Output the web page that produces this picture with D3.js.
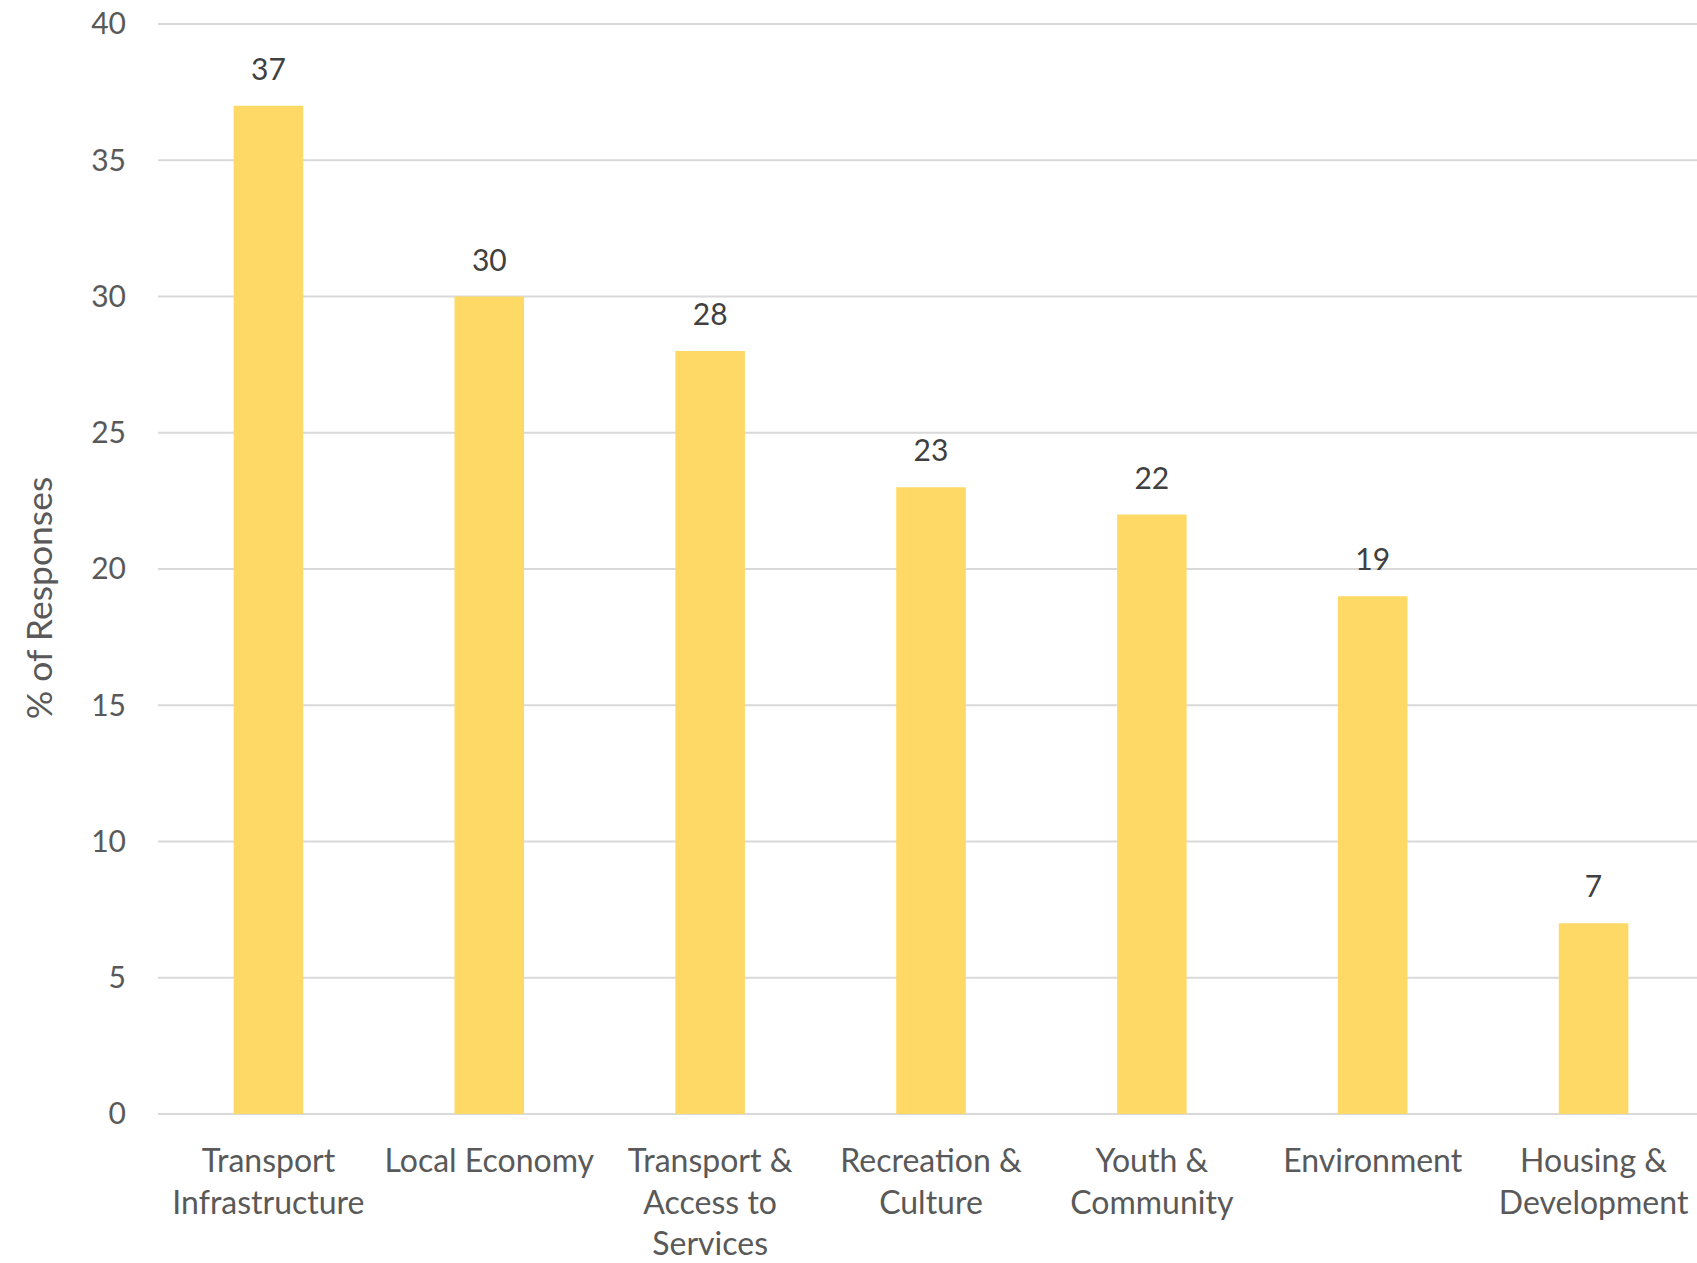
<!DOCTYPE html>
<html>
<head>
<meta charset="utf-8">
<script src="https://cdn.jsdelivr.net/npm/d3@7"></script>
<style>
html,body{margin:0;padding:0;background:#fff;overflow:hidden;}
text{font-family:Lato,"Open Sans",sans-serif;}
</style>
</head>
<body>
<svg id="chart" width="1697" height="1263"></svg>
<script>
const categories = [
  ["Transport", "Infrastructure"],
  ["Local Economy"],
  ["Transport &", "Access to", "Services"],
  ["Recreation &", "Culture"],
  ["Youth &", "Community"],
  ["Environment"],
  ["Housing &", "Development"]
];
const values = [37, 30, 28, 23, 22, 19, 7];
const yTicks = [0, 5, 10, 15, 20, 25, 30, 35, 40];
const yTitle = "% of Responses";

const svg = d3.select("#chart");
const keys = categories.map(c => c.join(" "));

const x = d3.scaleBand().domain(keys).range([158, 1704]).paddingInner(0.685).paddingOuter(0.3425);
const y = d3.scaleLinear().domain([0, 40]).range([1114, 24]);

// gridlines
svg.append("g").selectAll("line").data(yTicks).join("line")
  .attr("x1", 158).attr("x2", 1704)
  .attr("y1", d => y(d)).attr("y2", d => y(d))
  .attr("stroke", "#d9d9d9").attr("stroke-width", 2.2);

// y axis labels
const yAxis = d3.axisLeft(y).tickValues(yTicks).tickSize(0).tickPadding(0);
const ga = svg.append("g").attr("transform", "translate(126,0)").call(yAxis);
ga.select(".domain").remove();
ga.selectAll("text").attr("font-size", 30).attr("fill", "#595959")
  .style("font-family", "Lato").attr("dy", "0.33em");

// bars
svg.append("g").selectAll("rect").data(values).join("rect")
  .attr("x", (d, i) => x(keys[i]))
  .attr("width", x.bandwidth())
  .attr("y", d => y(d))
  .attr("height", d => y(0) - y(d))
  .attr("fill", "#FFD966");

// data labels
svg.append("g").selectAll("text").data(values).join("text")
  .attr("x", (d, i) => x(keys[i]) + x.bandwidth() / 2)
  .attr("y", d => y(d) - 26)
  .attr("text-anchor", "middle")
  .attr("font-size", 30).attr("fill", "#404040")
  .text(d => d);

// category labels
const cl = svg.append("g").selectAll("text").data(categories).join("text")
  .attr("x", (d, i) => x(keys[i]) + x.bandwidth() / 2)
  .attr("y", 1172)
  .attr("text-anchor", "middle")
  .attr("font-size", 32).attr("fill", "#595959");
cl.selectAll("tspan").data((d, i) => d.map(t => ({t, i}))).join("tspan")
  .attr("x", d => x(keys[d.i]) + x.bandwidth() / 2)
  .attr("dy", (d, j) => j === 0 ? 0 : 41.5)
  .text(d => d.t);

// y title
svg.append("text")
  .attr("transform", "translate(52,598) rotate(-90)")
  .attr("text-anchor", "middle")
  .attr("font-size", 35.5).attr("fill", "#595959")
  .text(yTitle);
</script>
</body>
</html>
